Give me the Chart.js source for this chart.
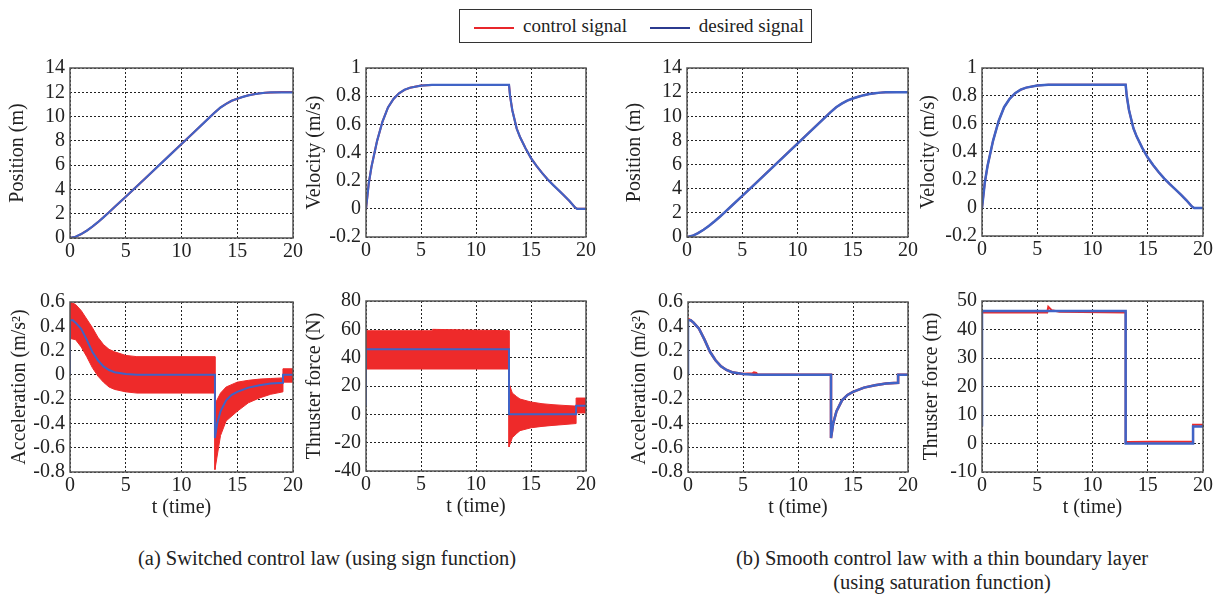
<!DOCTYPE html>
<html lang="en">
<head>
<meta charset="UTF-8">
<title>Switched vs smooth control law</title>
<script src="https://cdn.jsdelivr.net/npm/chart.js"></script>
<style>
    body {
        margin: 0;
        background: #fff;
        font-family: "Liberation Serif", "Times New Roman", serif;
        color: #222;
    }
    #page {
        position: relative;
        width: 1216px;
        height: 601px;
        overflow: hidden;
    }
    .panel { position: absolute; }
    #legend {
        position: absolute;
        left: 459px; top: 9px;
        width: 351px; height: 32px;
        border: 1.5px solid #333;
        font-size: 19px;
        line-height: 32px;
        white-space: nowrap;
    }
    #legend span.swatch {
        display: inline-block;
        width: 40px; height: 2px;
        vertical-align: middle;
        margin: 0 9px 0 0;
    }
    .caption {
        position: absolute;
        font-size: 20.5px;
        text-align: center;
        white-space: nowrap;
    }
</style>
</head>
<body>
<div id="page">
    <div id="legend">
        <span class="swatch" style="background:#e8262b; margin-left:14px"></span>control signal
        <span class="swatch" style="background:#2b3a8f; margin-left:18px"></span>desired signal
    </div>
    <div class="caption" style="left:0; width:654px; top:547px;">(a) Switched control law (using sign function)</div>
    <div class="caption" style="left:642px; width:600px; top:547px;">(b) Smooth control law with a thin boundary layer</div>
    <div class="caption" style="left:642px; width:600px; top:571px;">(using saturation function)</div>
</div>

<script>
// ---- data ----
const timeTicks = [0, 5, 10, 15, 20];
const posTicks = [0, 2, 4, 6, 8, 10, 12, 14];
const velTicks = [-0.2, 0, 0.2, 0.4, 0.6, 0.8, 1];
const accTicks = [-0.8, -0.6, -0.4, -0.2, 0, 0.2, 0.4, 0.6];
const forceTicksA = [-40, -20, 0, 20, 40, 60, 80];
const forceTicksB = [-10, 0, 10, 20, 30, 40, 50];

// position (m)
const tPos = [0, 0.5, 1, 1.5, 2, 2.5, 3, 3.5, 4, 5, 6, 7, 8, 9, 10, 11, 12, 13, 13.5, 14, 14.5, 15, 15.5, 16, 16.5, 17, 17.5, 18, 19, 20];
const posDesired = [0, 0.1, 0.32, 0.6, 0.93, 1.3, 1.7, 2.12, 2.55, 3.4, 4.26, 5.13, 6.0, 6.87, 7.74, 8.61, 9.48, 10.35, 10.75, 11.05, 11.3, 11.47, 11.62, 11.75, 11.84, 11.91, 11.96, 11.99, 12.0, 12.0];
const posControl = [0, 0.1, 0.32, 0.6, 0.93, 1.3, 1.7, 2.12, 2.55, 3.4, 4.26, 5.13, 6.0, 6.87, 7.74, 8.61, 9.48, 10.35, 10.75, 11.05, 11.3, 11.47, 11.62, 11.75, 11.84, 11.91, 11.96, 11.99, 12.02, 12.02];

// velocity (m/s)
const tVel = [0, 0.25, 0.5, 1, 1.5, 2, 2.5, 3, 3.5, 4, 5, 6, 13, 13.1, 13.3, 13.7, 14, 14.5, 15, 15.5, 16, 16.5, 17, 17.5, 18, 18.5, 19, 19.2, 20];
const velDesired = [0, 0.18, 0.3, 0.48, 0.62, 0.72, 0.78, 0.82, 0.845, 0.86, 0.875, 0.88, 0.88, 0.8, 0.7, 0.57, 0.51, 0.43, 0.36, 0.305, 0.255, 0.21, 0.17, 0.133, 0.095, 0.055, 0.01, 0, 0];
const velControl = [0, 0.18, 0.3, 0.48, 0.62, 0.72, 0.78, 0.82, 0.845, 0.86, 0.875, 0.88, 0.88, 0.8, 0.7, 0.57, 0.51, 0.43, 0.36, 0.305, 0.255, 0.21, 0.17, 0.133, 0.095, 0.055, 0.01, 0, 0];

// acceleration (m/s^2)
const tAcc = [0, 0, 0.25, 0.5, 1, 1.5, 2, 2.5, 3, 3.5, 4, 5, 6, 13, 13, 13.2, 13.5, 14, 14.5, 15, 16, 17, 18, 19.1, 19.1, 20];
const accDesired = [0, 0.45, 0.45, 0.43, 0.38, 0.29, 0.19, 0.12, 0.07, 0.04, 0.022, 0.008, 0, 0, -0.52, -0.4, -0.3, -0.21, -0.165, -0.14, -0.105, -0.085, -0.072, -0.065, 0, 0];
// chattering band of the switched law (upper / lower edge)
const tAccBand = [0, 0.5, 1, 1.5, 2, 2.5, 3, 3.5, 4, 5, 6, 13, 13, 13.5, 14, 15, 16, 17, 18, 19.1, 19.1, 20];
const accBandUpper = [0.6, 0.58, 0.53, 0.46, 0.39, 0.31, 0.25, 0.21, 0.19, 0.16, 0.15, 0.15, -0.24, -0.15, -0.1, -0.06, -0.045, -0.035, -0.03, -0.025, 0.05, 0.05];
const accBandLower = [0.3, 0.29, 0.23, 0.15, 0.06, -0.01, -0.06, -0.1, -0.12, -0.14, -0.15, -0.15, -0.78, -0.5, -0.38, -0.3, -0.23, -0.19, -0.16, -0.14, -0.06, -0.06];
// smooth law control acceleration
const tAccCtrlB = [0, 0.25, 0.5, 1, 1.5, 2, 2.5, 3, 3.5, 4, 5, 5.9, 6.0, 6.2, 6.3, 13, 13, 13.2, 13.5, 14, 14.5, 15, 16, 17, 18, 19.1, 19.1, 20];
const accCtrlB = [0.46, 0.45, 0.43, 0.38, 0.29, 0.19, 0.12, 0.07, 0.04, 0.022, 0.008, 0.012, 0.018, 0.014, 0, 0, -0.52, -0.4, -0.3, -0.21, -0.165, -0.14, -0.105, -0.085, -0.072, -0.065, 0, 0];

// thruster force
const tForce = [0, 0, 13, 13, 19.1, 19.1, 20];
const forceDesiredA = [6, 46, 46, 0, 0, 6, 6];
const forceDesiredB = [6, 46.5, 46.5, 0, 0, 6, 6];
const tForceBand = [0, 6, 6.05, 13, 13, 13.3, 13.7, 14, 15, 16, 17, 18, 19.1, 19.1, 20];
const forceBandUpper = [59, 59, 60, 59, 22, 15, 12.5, 10.8, 8.7, 7.5, 6.8, 6.3, 5.8, 11.5, 11.5];
const forceBandLower = [32, 32, 32, 32, -23, -16.5, -13.5, -11.5, -9.5, -8.5, -7.8, -7.2, -6.5, 1, 1];
const tForceCtrlB = [0, 0, 3, 5.9, 6.0, 6.3, 7, 13, 13, 13.3, 15.3, 19.1, 19.1, 20];
const forceCtrlB = [6, 46, 46, 46, 48, 46.8, 46.2, 46, 0.5, 0.5, 0.6, 0.6, 6.6, 6.6];

// ---- drawing ----
const RED = '#ee2a2a';
const BLUE = '#4063c6';
const FONT = '"Liberation Serif", "Times New Roman", serif';

function pts(t, y) {
    return t.map((x, i) => ({ x: x, y: y[i] }));
}

function line(t, y, color, width, order) {
    return {
        data: pts(t, y),
        borderColor: color,
        borderWidth: width,
        pointRadius: 0,
        tension: 0,
        fill: false,
        order: order
    };
}

function band(t, upper, lower, lowerIndex) {
    const up = line(t, upper, RED, 1, 2);
    up.fill = { target: lowerIndex };
    up.backgroundColor = RED;
    return [up, line(t, lower, RED, 1, 2)];
}

const framePlugin = {
    id: 'frame',
    afterDatasetsDraw(chart) {
        const a = chart.chartArea;
        const ctx = chart.ctx;
        ctx.save();
        ctx.strokeStyle = '#555';
        ctx.lineWidth = 1.5;
        ctx.strokeRect(a.left, a.top, a.right - a.left, a.bottom - a.top);
        ctx.restore();
    }
};

// plot-area rectangles measured on the reference, plus y-axis width
const panels = [
    { l: 70, r: 293, t: 63, b: 238, yw: 68, label: 'Position (m)', ticks: posTicks,
      datasets: [line(tPos, posDesired, BLUE, 2.2, 0), line(tPos, posControl, RED, 2, 1)] },
    { l: 366, r: 586, t: 63, b: 237, yw: 67, label: 'Velocity (m/s)', ticks: velTicks,
      datasets: [line(tVel, velDesired, BLUE, 2.2, 0), line(tVel, velControl, RED, 2, 1)] },
    { l: 70, r: 293, t: 297, b: 472, yw: 66, label: 'Acceleration (m/s²)', ticks: accTicks, xTitle: true,
      datasets: [line(tAcc, accDesired, BLUE, 2, 0)].concat(band(tAccBand, accBandUpper, accBandLower, 2)) },
    { l: 366, r: 586, t: 296, b: 471, yw: 67, label: 'Thruster force (N)', ticks: forceTicksA, xTitle: true,
      datasets: [line(tForce, forceDesiredA, BLUE, 2, 0)].concat(band(tForceBand, forceBandUpper, forceBandLower, 2)) },
    { l: 687, r: 908, t: 63, b: 237, yw: 68, label: 'Position (m)', ticks: posTicks,
      datasets: [line(tPos, posDesired, BLUE, 2.5, 0), line(tPos, posControl, RED, 2, 1)] },
    { l: 982, r: 1203, t: 63, b: 236, yw: 69, label: 'Velocity (m/s)', ticks: velTicks,
      datasets: [line(tVel, velDesired, BLUE, 2.5, 0), line(tVel, velControl, RED, 2, 1)] },
    { l: 688, r: 908, t: 297, b: 472, yw: 64, label: 'Acceleration (m/s²)', ticks: accTicks, xTitle: true,
      datasets: [line(tAcc, accDesired, BLUE, 2.5, 0), line(tAccCtrlB, accCtrlB, RED, 2.5, 1)] },
    { l: 982, r: 1203, t: 296, b: 472, yw: 66, label: 'Thruster force (m)', ticks: forceTicksB, xTitle: true,
      datasets: [line(tForce, forceDesiredB, BLUE, 2.5, 0), line(tForceCtrlB, forceCtrlB, RED, 2, 1)] }
];

const page = document.getElementById('page');
const padTop = 12, padRight = 16;
const fmt = v => String(Math.round(v * 100) / 100);

panels.forEach(p => {
    const xh = p.xTitle ? 52 : 26;
    const w = p.yw + (p.r - p.l) + padRight;
    const h = padTop + (p.b - p.t) + xh;
    const canvas = document.createElement('canvas');
    canvas.className = 'panel';
    canvas.width = w;
    canvas.height = h;
    canvas.style.left = (p.l - p.yw) + 'px';
    canvas.style.top = (p.t - padTop) + 'px';
    canvas.style.width = w + 'px';
    canvas.style.height = h + 'px';
    page.appendChild(canvas);

    const gridOpts = { color: '#222', lineWidth: 1, drawTicks: false };
    const borderOpts = { display: false, dash: [2, 2] };

    new Chart(canvas.getContext('2d'), {
        type: 'line',
        data: { datasets: p.datasets },
        plugins: [framePlugin],
        options: {
            responsive: false,
            animation: false,
            events: [],
            layout: { padding: { top: padTop, right: padRight, left: 0, bottom: 0 } },
            plugins: { legend: { display: false }, tooltip: { enabled: false } },
            scales: {
                x: {
                    type: 'linear',
                    min: 0, max: 20,
                    grid: gridOpts,
                    border: borderOpts,
                    afterBuildTicks: s => { s.ticks = timeTicks.map(v => ({ value: v })); },
                    afterFit: s => { s.height = xh; },
                    ticks: { color: '#222', padding: 2, autoSkip: false, maxRotation: 0, callback: fmt,
                             font: { family: FONT, size: 20 } },
                    title: { display: !!p.xTitle, text: 't (time)', color: '#222', font: { family: FONT, size: 20 } }
                },
                y: {
                    type: 'linear',
                    min: p.ticks[0], max: p.ticks[p.ticks.length - 1],
                    grid: gridOpts,
                    border: borderOpts,
                    afterBuildTicks: s => { s.ticks = p.ticks.map(v => ({ value: v })); },
                    afterFit: s => { s.width = p.yw; },
                    ticks: { color: '#222', padding: 5, autoSkip: false, callback: fmt,
                             font: { family: FONT, size: 20 } },
                    title: { display: true, text: p.label, color: '#222', font: { family: FONT, size: 20 } }
                }
            }
        }
    });
});
</script>
</body>
</html>
